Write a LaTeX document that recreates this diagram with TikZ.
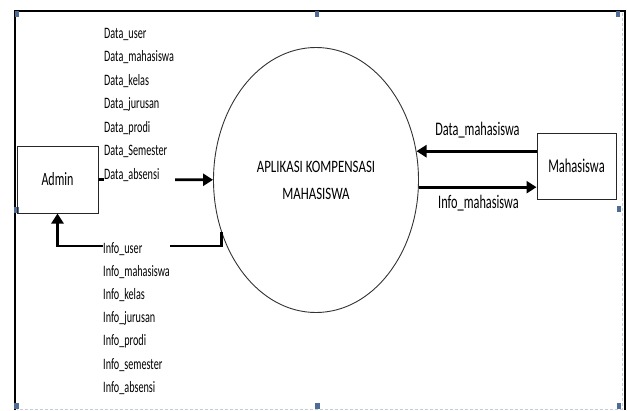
\documentclass[tikz,border=0pt]{standalone}
\usepackage{fontspec}
\setmainfont{Carlito}[FakeStretch=0.74]
\newfontfamily\narrowfont{Carlito}[FakeStretch=0.64]
\usetikzlibrary{shapes.geometric,arrows.meta}
\definecolor{handleblue}{RGB}{78,108,150}
\definecolor{dotgray}{RGB}{195,205,220}
\begin{document}
\begin{tikzpicture}[x=1pt,y=-1pt,
  entity/.style={draw=black!85, line width=1pt, rectangle, inner sep=0pt},
  process/.style={draw=black!80, line width=0.9pt, ellipse, inner sep=0pt, align=center,
    minimum width=205pt, minimum height=265pt, font=\fontsize{17.4}{27}\selectfont},
  flow/.style={line width=2.7pt, -{Triangle[length=10pt,width=12pt]}},
  lbl/.style={font=\narrowfont\fontsize{15.9}{18}\selectfont, text width=71pt, align=left,
    inner xsep=0pt, inner ysep=1pt, fill=white, anchor=base west},
  rlbl/.style={font=\narrowfont\fontsize{19.2}{22}\selectfont, inner sep=0pt, anchor=base},
  handle/.style={fill=handleblue, inner sep=0pt, minimum width=4.5pt, minimum height=6pt}]
\useasboundingbox (0,0) rectangle (627,410);
% frame
\draw[line width=1.4pt] (15,410) -- (15,11) -- (625,11) -- (625,410);
\draw[dotgray, line width=0.8pt, dash pattern=on 3pt off 2pt] (622,13) -- (622,409) -- (17,409);
% handles
\foreach \hx/\hy [count=\i] in {17/14, 317/14, 618/14, 16.5/210, 619/209, 16.5/406, 317.5/406, 619/406}
  \node[handle] (h\i) at (\hx,\hy) {};
% nodes
\node[process] (ell) at (316,180) {APLIKASI KOMPENSASI\\MAHASISWA};
\node[entity, minimum width=81pt, minimum height=67pt, font=\narrowfont\fontsize{18.8}{20}\selectfont] (admin) at (57.5,179.5) {Admin};
\node[entity, minimum width=79pt, minimum height=66pt, font=\narrowfont\fontsize{19.5}{22}\selectfont] (mah) at (576.5,166) {Mahasiswa};
% flows
\draw[flow] (admin) -- (ell);
\coordinate (bend) at (57.5,246);
\draw[flow] (ell.209) |- (bend) -- (admin.south);
\draw[flow] (mah.west |- ell.16.3) -- (ell.16.3);
\draw[flow] (ell.-4.5) -- (mah.west |- ell.-4.5);
% labels
\foreach \t [count=\i from 0] in {Data\_user, Data\_mahasiswa, Data\_kelas, Data\_jurusan, Data\_prodi, Data\_Semester, Data\_absensi}
  \node[lbl] (d\i) at (104,38+23.5*\i) {\t};
\foreach \t [count=\i from 0] in {Info\_user, Info\_mahasiswa, Info\_kelas, Info\_jurusan, Info\_prodi, Info\_semester, Info\_absensi}
  \node[lbl, text width=67pt] (f\i) at (103,253+23.2*\i) {\t};
\node[rlbl] (dm) at (477.5,135) {Data\_mahasiswa};
\node[rlbl] (im) at (478.5,208) {Info\_mahasiswa};
\end{tikzpicture}
\end{document}
